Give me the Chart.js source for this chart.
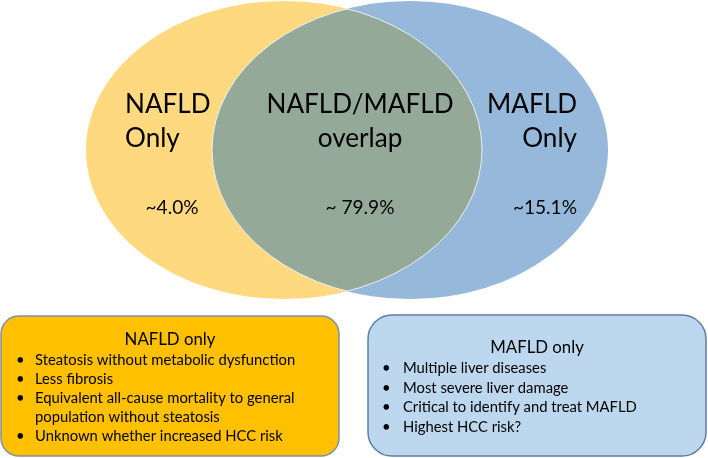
<!DOCTYPE html>
<html>
<head>
<meta charset="utf-8">
<script src="https://cdn.jsdelivr.net/npm/chart.js@4/dist/chart.umd.min.js"></script>
<style>
  html, body { margin: 0; padding: 0; background: #fff; }
  #wrap { width: 708px; height: 458px; }
</style>
</head>
<body>
<div id="wrap"><canvas id="venn" width="708" height="458"></canvas></div>
<script>
// data
const groups = [['NAFLD', 'Only'], ['NAFLD/MAFLD', 'overlap'], ['MAFLD', 'Only']];
const shares = [4.0, 79.9, 15.1];
const shareLabels = ['~4.0%', '~ 79.9%', '~15.1%'];
const nafldTitle = 'NAFLD only';
const nafldPoints = [
  ['Steatosis without metabolic dysfunction'],
  ['Less fibrosis'],
  ['Equivalent all-cause mortality to general', 'population without steatosis'],
  ['Unknown whether increased HCC risk']
];
const mafldTitle = 'MAFLD only';
const mafldPoints = [
  ['Multiple liver diseases'],
  ['Most severe liver damage'],
  ['Critical to identify and treat MAFLD'],
  ['Highest HCC risk?']
];

// layout (scale units = px of the 708x458 frame)
const leftSet = { cx: 284, cy: 150, rx: 198, ry: 149 };
const rightSet = { cx: 410, cy: 150, rx: 198, ry: 149 };
const FONT = 'Lato, "Open Sans", sans-serif';

function fit(ctx, text, width) {
  ctx.font = '100px ' + FONT;
  return 100 * width / ctx.measureText(text).width;
}

function ellipse(ctx, e, px, py) {
  const cx = px(e.cx), cy = py(e.cy);
  const rx = Math.abs(px(e.cx + e.rx) - cx), ry = Math.abs(py(e.cy + e.ry) - cy);
  ctx.beginPath();
  ctx.ellipse(cx, cy, rx, ry, 0, 0, Math.PI * 2);
}

function roundBox(ctx, x0, y0, x1, y1, r) {
  ctx.beginPath();
  ctx.roundRect(x0, y0, x1 - x0, y1 - y0, r);
}

const vennPlugin = {
  id: 'venn',
  beforeDatasetsDraw(chart) {
    const { ctx, scales: { x, y } } = chart;
    const px = v => x.getPixelForValue(v), py = v => y.getPixelForValue(v);
    ctx.save();
    // the two sets
    ellipse(ctx, leftSet, px, py);
    ctx.fillStyle = '#fed97f';
    ctx.fill();
    ellipse(ctx, rightSet, px, py);
    ctx.fillStyle = '#96b9db';
    ctx.fill();
    // overlap
    ctx.save();
    ellipse(ctx, leftSet, px, py);
    ctx.clip();
    ellipse(ctx, rightSet, px, py);
    ctx.fillStyle = '#95a998';
    ctx.fill();
    ctx.strokeStyle = 'rgba(255,255,255,0.8)';
    ctx.lineWidth = 1;
    ctx.stroke();
    ctx.restore();
    ctx.save();
    ellipse(ctx, rightSet, px, py);
    ctx.clip();
    ellipse(ctx, leftSet, px, py);
    ctx.strokeStyle = 'rgba(255,255,255,0.8)';
    ctx.lineWidth = 1;
    ctx.stroke();
    ctx.restore();

    // set labels
    ctx.fillStyle = '#000';
    ctx.textBaseline = 'alphabetic';
    const big = fit(ctx, 'NAFLD/MAFLD', 187);
    ctx.font = big.toFixed(1) + 'px ' + FONT;
    const anchors = [[125, 'left'], [360, 'center'], [577, 'right']];
    groups.forEach((lines, i) => {
      ctx.textAlign = anchors[i][1];
      lines.forEach((t, j) => ctx.fillText(t, px(anchors[i][0]), py(113 + j * 34)));
    });
    const pct = fit(ctx, '~15.1%', 64);
    ctx.font = pct.toFixed(1) + 'px ' + FONT;
    const pctX = [[172, 'center'], [360, 'center'], [577, 'right']];
    shares.forEach((v, i) => {
      ctx.textAlign = pctX[i][1];
      ctx.fillText(shareLabels[i], px(pctX[i][0]), py(214));
    });

    // boxes
    const boxes = [
      { x0: 1, y0: 316, x1: 339, y1: 456, r: 18, fill: '#ffc000', stroke: '#7f8fa6',
        title: nafldTitle, titleY: 345, items: nafldPoints, bx: 16, tx: 35, y: 365, step: 19 },
      { x0: 368, y0: 315, x1: 706, y1: 456, r: 24, fill: '#bdd7ee', stroke: '#5b80a8',
        title: mafldTitle, titleY: 353, items: mafldPoints, bx: 382, tx: 403, y: 373, step: 19.7 }
    ];
    const titleSize = fit(ctx, nafldTitle, 91);
    const itemSize = fit(ctx, 'Steatosis without metabolic dysfunction', 261);
    boxes.forEach(b => {
      roundBox(ctx, px(b.x0), py(b.y0), px(b.x1), py(b.y1), b.r);
      ctx.fillStyle = b.fill;
      ctx.fill();
      ctx.strokeStyle = b.stroke;
      ctx.lineWidth = 1.5;
      ctx.stroke();
      ctx.fillStyle = '#000';
      ctx.font = titleSize.toFixed(1) + 'px ' + FONT;
      ctx.textAlign = 'center';
      ctx.fillText(b.title, px((b.x0 + b.x1) / 2), py(b.titleY));
      ctx.font = itemSize.toFixed(1) + 'px ' + FONT;
      ctx.textAlign = 'left';
      let yy = b.y;
      b.items.forEach(lines => {
        ctx.fillText('\u2022', px(b.bx), py(yy));
        lines.forEach(t => {
          ctx.fillText(t, px(b.tx), py(yy));
          yy += b.step;
        });
      });
    });
    ctx.restore();
  }
};

new Chart(document.getElementById('venn'), {
  type: 'scatter',
  data: {
    labels: groups.map(g => g.join(' ')),
    datasets: [{
      label: 'Share of patients (%)',
      data: shares.map((v, i) => ({ x: [172, 360, 545][i], y: 214 })),
      pointRadius: 0,
      pointHoverRadius: 0
    }]
  },
  options: {
    responsive: false,
    devicePixelRatio: 1,
    animation: false,
    layout: { padding: 0 },
    scales: {
      x: { type: 'linear', min: 0, max: 708, display: false },
      y: { type: 'linear', min: 0, max: 458, reverse: true, display: false }
    },
    plugins: { legend: { display: false }, tooltip: { enabled: false } }
  },
  plugins: [vennPlugin]
});
</script>
</body>
</html>
